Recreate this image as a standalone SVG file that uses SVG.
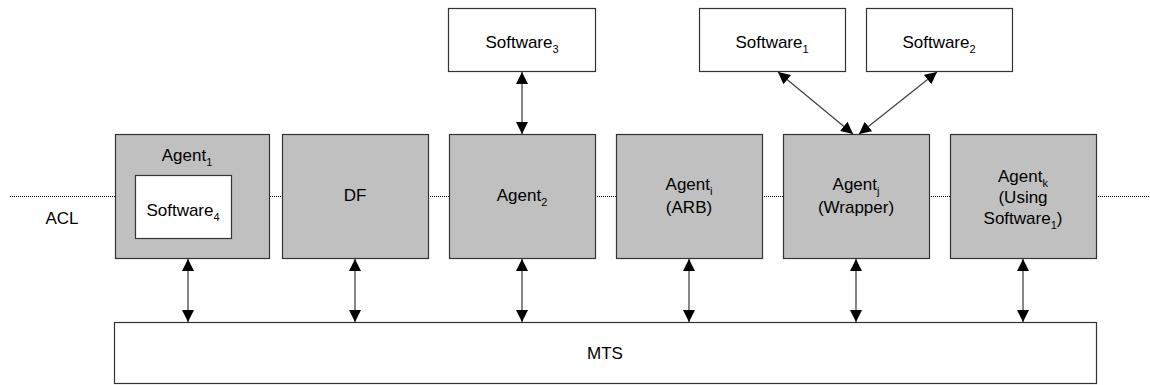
<svg xmlns="http://www.w3.org/2000/svg" width="1150" height="385" viewBox="0 0 1150 385">
<style>
.agent{fill:#c0c0c0;stroke:#333;stroke-width:1.2}
.sw{fill:#fff;stroke:#333;stroke-width:1.2}
.t{font-family:"Liberation Sans",Arial,sans-serif;font-size:17px;fill:#000;text-anchor:middle}
.sub{font-size:11px}
.acl{stroke:#000;stroke-width:1;stroke-dasharray:1 1;fill:none}
.conn{stroke:#444;stroke-width:1.3;fill:none;marker-start:url(#ah);marker-end:url(#ah)}
</style>
<defs>
<marker id="ah" viewBox="0 0 12 12" refX="12" refY="6" markerWidth="12" markerHeight="12" markerUnits="userSpaceOnUse" orient="auto-start-reverse">
<path d="M0,0 L12,6 L0,12 z" fill="#000"/>
</marker>
</defs>
<rect width="1150" height="385" fill="#fff"/>
<g id="acl-line">
<path class="acl" d="M10,196.5 H115 M270,196.5 H282 M428,196.5 H449 M595,196.5 H616 M762,196.5 H783 M929,196.5 H950 M1096,196.5 H1150"/>
<text class="t" x="62" y="224">ACL</text>
</g>
<g id="agent1">
<rect class="agent" x="115.5" y="134.5" width="154" height="124"/>
<text class="t" x="187" y="161">Agent<tspan class="sub" dy="5">1</tspan></text>
<g id="software4">
<rect class="sw" x="135.5" y="175.5" width="96" height="63"/>
<text class="t" x="183" y="216">Software<tspan class="sub" dy="5">4</tspan></text>
</g>
</g>
<g id="df">
<rect class="agent" x="282.5" y="134.5" width="146" height="124"/>
<text class="t" x="355" y="201">DF</text>
</g>
<g id="agent2">
<rect class="agent" x="449.5" y="134.5" width="146" height="124"/>
<text class="t" x="522" y="201">Agent<tspan class="sub" dy="5">2</tspan></text>
</g>
<g id="agenti">
<rect class="agent" x="616.5" y="134.5" width="146" height="124"/>
<text class="t" x="689" y="190">Agent<tspan class="sub" dy="5">i</tspan></text>
<text class="t" x="689" y="213">(ARB)</text>
</g>
<g id="agentj">
<rect class="agent" x="783.5" y="134.5" width="146" height="124"/>
<text class="t" x="856" y="190">Agent<tspan class="sub" dy="5">j</tspan></text>
<text class="t" x="856" y="213">(Wrapper)</text>
</g>
<g id="agentk">
<rect class="agent" x="950.5" y="134.5" width="146" height="124"/>
<text class="t" x="1023" y="182">Agent<tspan class="sub" dy="5">k</tspan></text>
<text class="t" x="1023" y="203">(Using</text>
<text class="t" x="1023" y="224">Software<tspan class="sub" dy="5">1</tspan><tspan dy="-5">)</tspan></text>
</g>
<g id="software3">
<rect class="sw" x="448.5" y="8.5" width="147" height="63"/>
<text class="t" x="522" y="48">Software<tspan class="sub" dy="5">3</tspan></text>
</g>
<g id="software1">
<rect class="sw" x="699.5" y="8.5" width="146" height="63"/>
<text class="t" x="772" y="48">Software<tspan class="sub" dy="5">1</tspan></text>
</g>
<g id="software2">
<rect class="sw" x="866.5" y="8.5" width="146" height="63"/>
<text class="t" x="939" y="48">Software<tspan class="sub" dy="5">2</tspan></text>
</g>
<g id="mts">
<rect class="sw" x="114.5" y="322.5" width="982" height="61"/>
<text class="t" x="605" y="359">MTS</text>
</g>
<g id="connectors">
<line class="conn" x1="522" y1="72" x2="522" y2="134"/>
<line class="conn" x1="778" y1="72" x2="853" y2="134"/>
<line class="conn" x1="937" y1="72" x2="859" y2="134"/>
<line class="conn" x1="188" y1="259" x2="188" y2="322"/>
<line class="conn" x1="355" y1="259" x2="355" y2="322"/>
<line class="conn" x1="522" y1="259" x2="522" y2="322"/>
<line class="conn" x1="689" y1="259" x2="689" y2="322"/>
<line class="conn" x1="856" y1="259" x2="856" y2="322"/>
<line class="conn" x1="1023" y1="259" x2="1023" y2="322"/>
</g>
</svg>
